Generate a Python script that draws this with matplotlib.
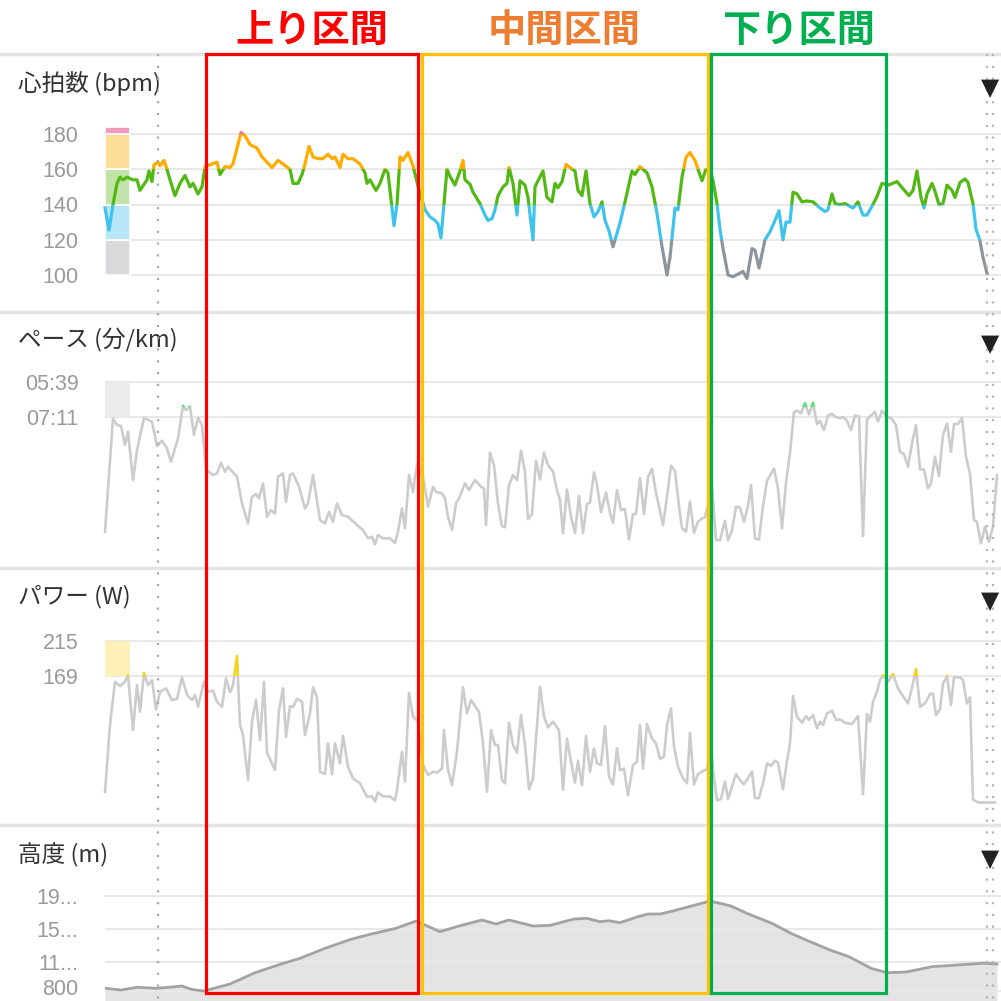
import numpy as np
import matplotlib
matplotlib.use("Agg")
import matplotlib.pyplot as plt
from matplotlib.patches import Rectangle
from matplotlib.transforms import ScaledTranslation

plt.rcParams['font.family'] = ['Noto Sans CJK JP', 'DejaVu Sans']

# ---- data (distance along the course in 100 m units) ----
hr_d = [0.0, 0.4, 0.8, 1.2, 1.5, 1.8, 2.2, 2.8, 3.2, 3.5,
        4.2, 4.4, 4.7, 4.9, 5.3, 5.5, 5.9, 6.2, 6.5, 7.0,
        7.5, 8.0, 8.5, 8.8, 9.3, 9.7, 10.0, 11.2, 11.5, 12.0,
        12.5, 12.8, 13.6, 14.0, 14.5, 15.2, 15.7, 16.2, 16.7, 17.3,
        17.8, 18.5, 18.8, 19.3, 19.7, 20.0, 20.4, 20.8, 21.3, 21.8,
        22.3, 22.7, 23.0, 23.5, 23.8, 24.3, 24.8, 25.5, 26.0, 26.2,
        26.5, 26.7, 27.1, 27.5, 28.0, 28.3, 28.9, 29.2, 29.5, 29.8,
        30.3, 30.8, 31.1, 31.5, 32.0, 32.5, 33.0, 33.3, 33.6, 34.2,
        34.5, 35.0, 35.5, 35.8, 36.0, 36.5, 36.8, 37.5, 38.0, 38.3,
        38.7, 39.0, 39.3, 39.8, 40.2, 40.4, 40.8, 41.2, 41.5, 42.0,
        42.3, 42.8, 43.0, 43.3, 43.8, 44.2, 44.7, 45.0, 45.3, 45.7,
        46.1, 46.5, 47.0, 47.3, 47.7, 48.1, 48.5, 48.9, 49.3, 49.7,
        50.0, 50.4, 50.8, 51.5, 52.0, 52.7, 53.0, 53.5, 54.2, 54.7,
        55.2, 55.7, 56.2, 56.5, 57.0, 57.3, 57.7, 58.1, 58.5, 59.0,
        59.7, 60.1, 60.5, 60.8, 61.2, 61.5, 61.8, 62.3, 62.8, 63.3,
        63.8, 64.2, 64.7, 65.0, 65.4, 66.0, 66.5, 67.0, 67.4, 67.8,
        68.1, 68.5, 68.8, 69.2, 69.7, 70.2, 70.8, 71.5, 72.0, 72.3,
        72.7, 73.0, 73.5, 74.0, 74.8, 75.3, 75.8, 76.2, 76.7, 77.2,
        77.7, 78.3, 79.2, 79.8, 80.4, 80.8, 81.2, 81.6, 81.9, 82.2,
        82.7, 83.0, 83.4, 83.8, 84.2, 84.7, 85.0, 85.5, 86.0, 86.3,
        86.8, 87.1, 87.5, 87.8, 88.2]
hr = [138, 125.5, 140, 152, 155.5, 154, 155.5, 154, 154, 148,
      154, 159, 153, 162.5, 164, 162, 165, 160, 154, 145,
      152, 156.5, 150, 152, 146, 150, 161.5, 164, 157, 161.5,
      161, 163, 180.8, 179, 174, 172, 167, 164, 161, 165,
      163, 160, 152, 152, 157, 163, 173, 167, 166, 166,
      168.5, 166, 167, 161, 168.5, 166, 166, 163, 158, 152,
      154, 152, 148, 152, 160, 158, 128, 140, 167, 165,
      169.5, 162, 155, 146, 137, 133, 131, 129, 121, 160,
      156, 151, 159, 165, 154, 151.5, 147, 140.5, 134, 131,
      132, 137, 145, 150, 152, 161, 152, 134, 153.5, 151,
      144, 120, 150, 153.5, 159, 144, 141.5, 152, 149.5, 153,
      162.7, 161, 159, 148, 145, 159, 140.5, 133, 136, 141.5,
      131, 125, 116, 129.5, 141.5, 159, 157, 161.5, 158, 150,
      135, 116, 100, 110, 138, 137, 155.5, 166.7, 169.5, 165,
      153.5, 160, 159, 153.5, 140.5, 126, 115, 100, 99, 100.5,
      102, 98, 115, 114, 104, 120, 124.5, 131, 136.5, 120,
      130, 130, 147, 146, 141.5, 142, 141.5, 138, 136, 137,
      146, 140.5, 140, 140.5, 138, 141.5, 134, 134, 139, 144.5,
      152, 151, 153, 149, 145, 148, 159, 144, 138, 146,
      152, 147.5, 140, 140.5, 151, 148, 144, 152.5, 154.5, 152.5,
      140.5, 126, 119.5, 110, 101]

# pace is drawn as speed (km/h)
spd_d = [0.0, 0.8, 1.2, 1.6, 2.0, 2.3, 2.8, 3.2, 3.9, 4.7,
         5.2, 5.7, 6.2, 6.6, 7.3, 7.8, 8.1, 8.5, 8.9, 9.3,
         9.7, 10.1, 10.8, 11.2, 11.6, 12.0, 12.3, 13.2, 13.7, 14.3,
         14.7, 15.1, 15.4, 15.8, 16.2, 16.6, 17.0, 17.3, 17.8, 18.1,
         18.5, 18.8, 19.4, 20.0, 20.3, 20.8, 21.5, 22.0, 22.4, 22.8,
         23.2, 23.7, 24.3, 25.2, 25.8, 26.3, 26.7, 27.0, 27.3, 27.8,
         28.5, 29.0, 29.3, 29.7, 30.0, 30.4, 30.8, 31.2, 31.8, 32.3,
         32.8, 33.1, 33.7, 34.0, 34.3, 34.7, 35.1, 35.4, 36.0, 36.4,
         37.0, 37.6, 37.9, 38.1, 38.5, 38.9, 39.3, 39.7, 40.0, 40.4,
         40.8, 41.2, 41.6, 42.0, 42.3, 42.7, 43.1, 43.5, 43.9, 44.3,
         44.8, 45.2, 45.5, 45.8, 46.2, 46.6, 47.0, 47.4, 47.8, 48.2,
         48.5, 48.9, 49.2, 49.6, 50.1, 50.5, 50.8, 51.2, 51.6, 52.0,
         52.4, 52.8, 53.1, 53.5, 53.9, 54.3, 54.7, 55.1, 55.4, 55.8,
         56.2, 56.6, 57.0, 57.4, 57.7, 58.1, 58.5, 58.9, 59.3, 59.7,
         60.0, 60.7, 61.1, 61.5, 62.0, 62.3, 62.7, 63.1, 63.5, 63.9,
         64.3, 64.6, 65.0, 65.4, 65.8, 66.2, 66.6, 66.9, 67.3, 67.7,
         68.1, 68.5, 68.9, 69.2, 69.6, 70.0, 70.4, 70.8, 71.2, 71.5,
         71.9, 72.3, 72.7, 73.1, 73.5, 73.8, 74.2, 74.6, 75.0, 75.4,
         75.8, 76.2, 76.6, 77.0, 77.3, 77.7, 78.2, 78.6, 79.1, 79.5,
         79.9, 80.3, 80.7, 81.1, 81.5, 81.9, 82.3, 82.6, 83.0, 83.4,
         83.8, 84.2, 84.6, 84.9, 85.3, 85.7, 86.1, 86.5, 86.9, 87.2,
         87.6, 88.0, 88.4, 88.8, 89.2]
spd = [0.93, 8.26, 7.83, 7.77, 6.54, 7.4, 4.27, 6.21, 8.3, 8.05,
       6.47, 6.82, 6.32, 5.46, 6.97, 9.08, 8.8, 9.02, 7.18, 8.3,
       7.83, 4.96, 4.6, 4.7, 5.39, 4.81, 5.13, 4.49, 2.76, 1.47,
       3.19, 3.37, 3.09, 4.06, 1.9, 2.33, 2.1, 4.49, 4.7, 2.87,
       4.6, 4.7, 3.84, 2.44, 2.76, 4.6, 1.68, 1.47, 2.22, 1.57,
       2.76, 2.0, 1.9, 1.36, 1.04, 0.5, 0.6, 0.11, 0.71, 0.5,
       0.5, 0.21, 0.93, 2.44, 1.15, 4.6, 3.51, 5.3, 4.49, 2.55,
       3.84, 3.51, 3.4, 3.09, 1.9, 1.04, 2.76, 3.09, 4.06, 3.62,
       4.27, 3.84, 3.73, 1.36, 6.04, 5.24, 2.76, 1.29, 1.22, 3.95,
       4.6, 4.27, 6.17, 4.81, 1.73, 2.07, 5.52, 4.31, 6.04, 5.24,
       4.81, 3.62, 2.98, 0.82, 3.66, 1.9, 0.85, 3.24, 0.85, 2.72,
       2.81, 4.77, 3.95, 2.2, 3.47, 2.15, 1.51, 3.62, 2.33, 2.4,
       0.43, 2.07, 2.07, 4.4, 2.07, 4.46, 5.0, 3.45, 2.55, 1.36,
       3.19, 5.2, 4.87, 2.59, 1.15, 0.93, 2.87, 0.85, 1.57, 1.79,
       1.86, 3.84, 0.39, 0.39, 1.64, 0.39, 0.99, 2.55, 2.48, 1.57,
       2.59, 3.95, 0.5, 0.43, 2.59, 4.23, 4.67, 5.02, 3.73, 1.15,
       4.12, 6.04, 8.69, 8.76, 8.6, 9.24, 8.52, 9.28, 7.9, 8.1,
       7.51, 8.45, 8.56, 8.35, 8.28, 8.35, 8.1, 7.51, 8.45, 8.4,
       0.65, 8.2, 8.45, 8.69, 8.07, 8.76, 8.35, 8.28, 7.83, 6.1,
       5.95, 5.13, 6.64, 7.83, 4.96, 4.96, 3.73, 4.06, 5.78, 4.53,
       7.18, 7.94, 6.1, 7.9, 7.9, 8.28, 5.78, 4.67, 1.68, 1.57,
       0.17, 1.26, 0.28, 1.26, 4.6]

pw_d = [0.0, 0.5, 1.0, 1.5, 2.0, 2.3, 2.8, 3.2, 3.5, 3.9,
        4.3, 4.7, 5.1, 5.5, 6.1, 6.7, 7.2, 7.7, 8.2, 8.7,
        9.0, 9.3, 9.9, 10.3, 10.8, 11.2, 11.7, 12.1, 12.5, 12.8,
        13.2, 13.5, 13.8, 14.3, 14.7, 15.1, 15.5, 15.9, 16.2, 17.0,
        17.4, 17.8, 18.1, 18.5, 18.8, 19.2, 19.7, 20.0, 20.5, 20.8,
        21.2, 21.5, 22.0, 22.3, 22.7, 23.0, 23.5, 23.8, 24.3, 24.8,
        25.5, 26.2, 26.7, 27.0, 27.3, 27.8, 28.5, 29.0, 29.2, 29.7,
        30.0, 30.4, 30.8, 31.3, 31.8, 32.3, 32.8, 33.2, 33.7, 33.9,
        34.3, 34.7, 35.2, 35.8, 36.2, 36.6, 37.0, 37.4, 37.8, 38.2,
        38.6, 39.0, 39.3, 39.7, 40.0, 40.4, 40.8, 41.2, 41.6, 42.0,
        42.4, 42.8, 43.5, 43.9, 44.3, 44.8, 45.4, 45.8, 46.2, 46.6,
        47.0, 47.3, 47.7, 48.1, 48.5, 48.9, 49.2, 49.6, 50.0, 50.4,
        50.8, 51.2, 51.5, 51.9, 52.3, 52.8, 53.2, 53.5, 53.8, 54.2,
        54.7, 55.1, 55.5, 55.9, 56.2, 56.6, 56.9, 57.3, 57.8, 58.2,
        58.5, 58.9, 59.3, 59.8, 60.2, 60.6, 60.8, 61.2, 61.6, 62.0,
        62.3, 63.1, 63.5, 63.9, 64.7, 65.0, 65.4, 65.8, 66.2, 66.6,
        67.0, 67.3, 67.8, 68.2, 68.5, 68.8, 69.2, 69.7, 70.1, 70.4,
        70.8, 71.2, 71.5, 71.8, 72.2, 72.7, 73.1, 73.5, 74.0, 74.7,
        75.3, 75.8, 76.2, 76.5, 76.8, 77.2, 77.5, 77.8, 78.3, 78.8,
        79.3, 79.8, 80.3, 80.8, 81.1, 81.5, 82.0, 82.5, 82.8, 83.1,
        83.5, 83.8, 84.2, 84.6, 84.9, 85.5, 85.8, 86.2, 86.5, 86.8,
        87.3, 89.0]
pw = [19, 105.5, 161.6, 156, 161.6, 170.3, 99, 157.3, 122.8, 173.3,
      157.3, 163.8, 125.8, 148.7, 153, 137.9, 139.4, 167.3, 144.4, 137.9,
      144.4, 129.2, 161.6, 148.7, 150, 135.7, 129.2, 166, 148, 157.3,
      194.9, 105.5, 92.6, 34.3, 109.8, 137.9, 86.1, 161.6, 69.7, 47.2,
      125, 153, 90.4, 130.1, 129.2, 139.4, 135.7, 92.6, 120.7, 154.4,
      141.6, 45, 42, 81.8, 42, 81.8, 55.9, 91.3, 51.5, 36.4,
      30, 12.6, 13, 6.5, 18.2, 13, 13, 7.8, 21.7, 71,
      32.2, 147.4, 116.3, 109.8, 53.7, 40.8, 45, 43.9, 49, 99,
      47.5, 27.5, 71, 154.4, 120.7, 137.9, 130.1, 122.8, 81.8, 19,
      99, 79.6, 79.6, 34.3, 30, 108.5, 79.6, 69.7, 118.5, 79.6,
      22.3, 36.4, 155.2, 116.3, 102.5, 109.8, 99, 21.7, 88, 58.1,
      31, 59.3, 27.5, 91.3, 45, 75.3, 55.9, 53.7, 104.2, 38.6,
      28.6, 75.3, 47, 49, 14.6, 53.7, 58.1, 105.5, 49, 106.8,
      88, 81.8, 61.5, 64.5, 105.5, 127.2, 77.5, 51.5, 36.4, 30,
      95.6, 28.6, 42, 46.1, 47.9, 81.8, 47, 7.8, 9.6, 32.2,
      9.6, 42, 34.3, 28.6, 45, 10.9, 10.9, 30, 55.9, 52.6,
      59.3, 56.8, 22.3, 59.3, 81.8, 143.1, 116.3, 108.5, 117.2, 112,
      118.5, 101.2, 109.8, 105.5, 120.7, 124.1, 112, 112.9, 108.5, 106.8,
      117.2, 15.9, 119.8, 109.8, 135.7, 148.7, 163.8, 170.3, 161.6, 171.6,
      153, 143.1, 133.6, 159.2, 177.7, 129.2, 133.6, 145.7, 146.4, 118.5,
      125.8, 159.2, 169, 131.6, 167.3, 167.3, 163.8, 133.6, 141.4, 8.7,
      5.2, 5.2]

el_d = [0.0, 1.6, 3.2, 5.1, 6.4, 7.7, 8.6, 9.9, 12.5, 15.0,
        17.6, 19.5, 22.0, 24.6, 26.5, 29.1, 31.1, 33.5, 35.4, 37.7,
        39.1, 40.4, 42.8, 44.5, 46.9, 48.2, 49.5, 50.4, 51.5, 53.3,
        54.3, 55.5, 56.5, 58.4, 60.5, 62.6, 64.2, 66.7, 68.6, 70.5,
        72.5, 74.4, 76.6, 78.2, 80.1, 82.7, 85.2, 87.8, 89.2]
el = [833, 812, 845, 833, 845, 861, 821, 800, 885, 1022,
      1127, 1196, 1317, 1427, 1487, 1560, 1648, 1519, 1588, 1661,
      1612, 1661, 1588, 1596, 1673, 1681, 1640, 1652, 1628, 1701,
      1733, 1733, 1761, 1822, 1891, 1830, 1741, 1620, 1499, 1398,
      1297, 1216, 1075, 1022, 1030, 1095, 1115, 1136, 1128]

hr_ticks = [100, 120, 140, 160, 180]
hr_zone_edges = [100, 120, 140, 160, 180, 184]
hr_line_colors = ['#8d959c', '#3fc3ec', '#52b814', '#ffab00', '#ee6fa4']
hr_zone_colors = ['#d9d9db', '#b7e6f6', '#c1e3a9', '#fedc99', '#f29abb']
pace_labels = ['05:39', '07:11']
pace_green_from = 9.0   # km/h, above this the pace line turns green
power_ticks = [169, 215]
elev_ticks = [800, 1150, 1550, 1950]
elev_labels = ['800', '11...', '15...', '19...']

sections = ['上り区間', '中間区間', '下り区間']
sec_start = [10.05, 31.65, 60.55]
sec_end = [31.25, 60.25, 78.1]
sec_edge = ['#ff0000', '#ffc000', '#00b050']
sec_text = ['#ff0000', '#ed7d31', '#00b050']
cursor_d = 5.3
range_end = [88.17, 88.83]

# ---- layout (pixels of a 1001 x 1001 canvas) ----
W = H = 1001
X0 = 105
XMAX = (W - X0) / 10

fig = plt.figure(figsize=(10.01, 10.01), dpi=100)

bg = fig.add_axes([0, 0, 1, 1], zorder=0)
bg.set_xlim(0, W)
bg.set_ylim(H, 0)
bg.axis('off')


def panel(top, bottom):
    ax = fig.add_axes([X0 / W, 1 - bottom / H, (W - X0) / W, (bottom - top) / H], zorder=2)
    ax.patch.set_alpha(0)
    ax.set_xlim(0, XMAX)
    ax.set_xticks([])
    for s in ax.spines.values():
        s.set_visible(False)
    ax.tick_params(axis='y', length=0, pad=19, labelsize=15.5, labelcolor='#999999')
    ax.grid(axis='y', color='#e8e8e8', lw=1.5)
    return ax


def band_line(ax, x, y, bands, lw):
    for lo, hi, c in bands:
        ln, = ax.plot(x, y, color=c, lw=lw, solid_joinstyle='round')
        ln.set_clip_path(Rectangle((-10, lo), 200, hi - lo, transform=ax.transData))


def set_labels(ax, ticks, labels):
    ax.set_yticks(ticks)
    ax.set_yticklabels(labels, family='Liberation Sans')


# heart rate
ax1 = panel(54, 312)
ax1.set_ylim(79, 225.4)
set_labels(ax1, hr_ticks, [str(t) for t in hr_ticks])
for i in range(len(hr_zone_colors)):
    ax1.bar(0, hr_zone_edges[i + 1] - hr_zone_edges[i], width=2.5, bottom=hr_zone_edges[i],
            align='edge', color=hr_zone_colors[i], edgecolor='white', lw=1.2, zorder=2)
bands = []
for i, c in enumerate(hr_line_colors):
    lo = hr_zone_edges[i] if i > 0 else 0
    hi = hr_zone_edges[i + 1] if i < 4 else 300
    bands.append((lo, hi, c))
band_line(ax1, hr_d, hr, bands, 2.3)

# pace (plotted as speed)
pace_speed = [60 / (int(p[:2]) + int(p[3:]) / 60) for p in pace_labels]
ax2 = panel(312, 568)
ax2.set_ylim(-1.42, 15.15)
set_labels(ax2, pace_speed, pace_labels)
ax2.bar(0, pace_speed[0] - pace_speed[1], width=2.5, bottom=pace_speed[1], align='edge',
        color='#ebebeb', zorder=2)
band_line(ax2, spd_d, spd, [(-5, pace_green_from, '#cccccc'), (pace_green_from, 30, '#5be37a')], 1.9)

# power
ax3 = panel(568, 825)
ax3.set_ylim(-24, 309)
set_labels(ax3, power_ticks, [str(t) for t in power_ticks])
ax3.bar(0, power_ticks[1] - power_ticks[0], width=2.5, bottom=power_ticks[0], align='edge',
        color='#fdf1b8', zorder=2)
band_line(ax3, pw_d, pw, [(-50, power_ticks[0], '#cccccc'), (power_ticks[0], 400, '#f7d21e')], 1.9)

# elevation
ax4 = panel(825, 1001)
ax4.set_ylim(679, 2812)
set_labels(ax4, elev_ticks, elev_labels)
ax4.fill_between(el_d, el, 679, color='#e4e4e4', lw=0, zorder=1)
ax4.plot(el_d, el, color='#a3a3a3', lw=2.0, zorder=3)
# lift the bottom label a little so it stays inside the canvas
low = ax4.get_yticklabels()[0]
low.set_transform(low.get_transform() + ScaledTranslation(0, 4 / 100, fig.dpi_scale_trans))

# panel separators and titles
for y in [54, 312, 568, 825]:
    bg.plot([0, W], [y, y], color='#e4e4e4', lw=2.5)
titles = ['心拍数 (bpm)', 'ペース (分/km)', 'パワー (W)', '高度 (m)']
title_y = [84, 340, 597, 855]
for t, y in zip(titles, title_y):
    bg.text(18, y, t, fontsize=17, color='#333333', ha='left', va='center')

# overlay: cursor lines and the three sections
ov = fig.add_axes([X0 / W, 0, (W - X0) / W, 1], zorder=5)
ov.set_xlim(0, XMAX)
ov.set_ylim(H, 0)
ov.axis('off')
ov.plot([cursor_d, cursor_d], [54, H], color='#a8a8a8', lw=1.6, ls=(0, (1, 4.3)))
for d in range_end:
    ov.plot([d, d], [54, H], color='#b5b5b5', lw=1.6, ls=(0, (1, 4.3)))
for name, s, e, ec, tc in zip(sections, sec_start, sec_end, sec_edge, sec_text):
    ov.add_patch(Rectangle((s, 54), e - s, 993 - 54, fill=False, edgecolor=ec, lw=2.3))
    ov.text((s + e) / 2, 30, name, fontsize=27.5, fontweight='bold', color=tc,
            ha='center', va='center')

# menu arrows on top of everything
for y in title_y:
    fig.text(990 / W, 1 - (y + 4) / H, '▼', fontsize=17, color='#222222', ha='center',
             va='center', family='DejaVu Sans', zorder=10)

fig.savefig('out.png', dpi=100)
